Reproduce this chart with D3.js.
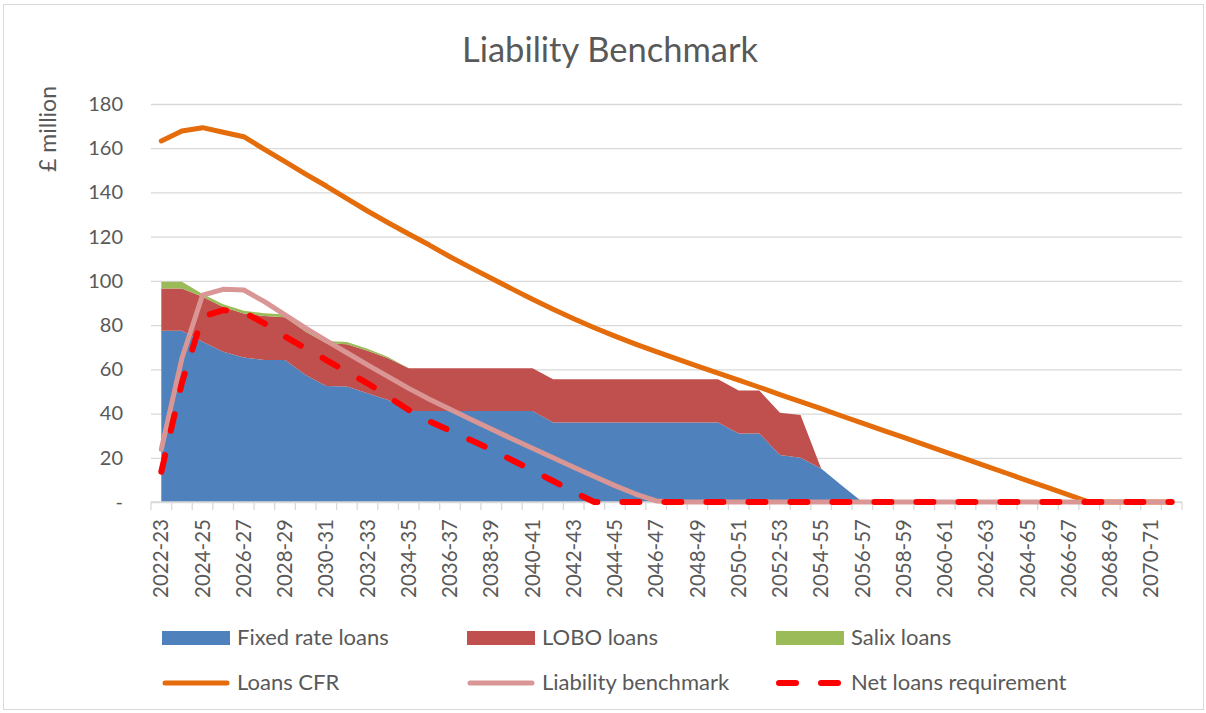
<!DOCTYPE html>
<html lang="en">
<head>
  <meta charset="UTF-8">
  <title>Liability Benchmark</title>
  <script src="https://d3js.org/d3.v7.min.js"></script>
  <style>
    body { margin: 0; background: #fff; font-family: Lato, "Open Sans", sans-serif; }
    text { fill: #595959; }
  </style>
</head>
<body>
  <svg width="1206" height="713"></svg>

  <script>
    // Categories (financial years)
    const years = [
      "2022-23","2023-24","2024-25","2025-26","2026-27","2027-28","2028-29","2029-30","2030-31","2031-32",
      "2032-33","2033-34","2034-35","2035-36","2036-37","2037-38","2038-39","2039-40","2040-41","2041-42",
      "2042-43","2043-44","2044-45","2045-46","2046-47","2047-48","2048-49","2049-50","2050-51","2051-52",
      "2052-53","2053-54","2054-55","2055-56","2056-57","2057-58","2058-59","2059-60","2060-61","2061-62",
      "2062-63","2063-64","2064-65","2065-66","2066-67","2067-68","2068-69","2069-70","2070-71","2071-72"
    ];

    // Stacked areas (£ million)
    const fixedRate = [
      77.5, 77.5, 72.5, 68.0, 65.4, 64.2, 64.2, 57.4, 52.5, 52.2,
      49.2, 46.1, 41.2, 41.2, 41.2, 41.2, 41.2, 41.2, 41.2, 36.0,
      36.0, 36.0, 36.0, 36.0, 36.0, 36.0, 36.0, 36.0, 31.0, 31.0,
      21.3, 20.0, 15.2, 7.5, 0, 0, 0, 0, 0, 0,
      0, 0, 0, 0, 0, 0, 0, 0, 0, 0
    ];
    const lobo = [
      19.1, 19.1, 20.3, 20.2, 19.9, 19.9, 19.3, 19.6, 19.3, 19.2,
      19.2, 18.9, 19.3, 19.3, 19.3, 19.3, 19.3, 19.3, 19.3, 19.5,
      19.5, 19.5, 19.5, 19.5, 19.5, 19.5, 19.5, 19.5, 19.4, 19.4,
      19.1, 19.3, 0, 0, 0, 0, 0, 0, 0, 0,
      0, 0, 0, 0, 0, 0, 0, 0, 0, 0
    ];
    const salix = [
      3.0, 3.0, 1.3, 1.2, 1.2, 1.3, 1.3, 1.0, 1.0, 1.0,
      0.9, 0.6, 0, 0, 0, 0, 0, 0, 0, 0,
      0, 0, 0, 0, 0, 0, 0, 0, 0, 0,
      0, 0, 0, 0, 0, 0, 0, 0, 0, 0,
      0, 0, 0, 0, 0, 0, 0, 0, 0, 0
    ];

    // Lines (£ million)
    const loansCFR = [
      163.3, 167.8, 169.3, 167.2, 165.2, 159.5, 153.9, 148.3, 142.9, 137.2,
      131.6, 126.3, 121.2, 116.2, 110.9, 106.0, 101.2, 96.4, 91.7, 87.2,
      82.9, 78.8, 75.0, 71.4, 68.0, 64.7, 61.5, 58.3, 55.1, 51.9,
      48.6, 45.4, 42.2, 38.9, 35.7, 32.4, 29.2, 26.0, 22.7, 19.5,
      16.2, 13.0, 9.7, 6.5, 3.2, 0, 0, 0, 0, 0
    ];
    const liabilityBenchmark = [
      23.8, 65.0, 93.6, 96.2, 95.9, 90.6, 84.6, 78.6, 73.0, 67.5,
      62.0, 56.7, 51.4, 46.5, 41.9, 37.4, 33.0, 28.6, 24.3, 20.0,
      15.7, 11.5, 7.4, 3.6, 0.5, 0, 0, 0, 0, 0,
      0, 0, 0, 0, 0, 0, 0, 0, 0, 0,
      0, 0, 0, 0, 0, 0, 0, 0, 0, 0
    ];
    const netLoans = [
      13.7, 54.0, 83.8, 86.8, 85.8, 80.8, 74.8, 69.5, 64.2, 58.9,
      53.7, 47.6, 41.6, 36.5, 32.3, 28.0, 23.7, 19.0, 14.3, 9.5,
      4.5, 0, 0, 0, 0, 0, 0, 0, 0, 0,
      0, 0, 0, 0, 0, 0, 0, 0, 0, 0,
      0, 0, 0, 0, 0, 0, 0, 0, 0, 0
    ];

    const yTicks = [0, 20, 40, 60, 80, 100, 120, 140, 160, 180];

    const areaSeries = [
      { key: "fixed", name: "Fixed rate loans", color: "#4F81BD" },
      { key: "lobo",  name: "LOBO loans",       color: "#C0504D" },
      { key: "salix", name: "Salix loans",      color: "#9BBB59" }
    ];
    const lineSeries = [
      { name: "Loans CFR",             values: loansCFR,           color: "#E46C0A", width: 5, dash: null },
      { name: "Liability benchmark",   values: liabilityBenchmark, color: "#D99694", width: 5, dash: null },
      { name: "Net loans requirement", values: netLoans,           color: "#FF0000", width: 6, dash: "17 25" }
    ];

    const svg = d3.select("svg");
    const plot = { left: 151, right: 1182, top: 104, bottom: 502 };

    const x = d3.scaleBand().domain(years).range([plot.left, plot.right]);
    const cx = d => x(d) + x.bandwidth() / 2;
    const y = d3.scaleLinear().domain([0, 180]).range([plot.bottom, plot.top]);

    // chart border
    svg.append("rect")
       .attr("x", 3.5).attr("y", 4.5).attr("width", 1200).attr("height", 705)
       .attr("fill", "none").attr("stroke", "#d9d9d9");

    // title
    svg.append("text")
       .attr("x", 610).attr("y", 62)
       .attr("text-anchor", "middle")
       .style("font-size", "34.5px")
       .text("Liability Benchmark");

    // gridlines + y labels
    const yAxis = d3.axisLeft(y)
      .tickValues(yTicks)
      .tickSize(-(plot.right - plot.left))
      .tickPadding(28)
      .tickFormat(d => d === 0 ? "-" : d);
    const gy = svg.append("g")
      .attr("transform", `translate(${plot.left},0)`)
      .call(yAxis);
    gy.select(".domain").remove();
    gy.selectAll("line").attr("stroke", "#d9d9d9").attr("stroke-width", 1.3);
    gy.selectAll("text")
      .style("font-size", "20px").style("font-family", "Lato, sans-serif")
      .attr("fill", "#595959");

    svg.append("text")
       .attr("transform", "translate(56,129) rotate(-90)")
       .attr("text-anchor", "middle")
       .style("font-size", "23px")
       .text("£ million");

    // stacked areas
    const table = years.map((yr, i) => ({ year: yr, fixed: fixedRate[i], lobo: lobo[i], salix: salix[i] }));
    const stacked = d3.stack().keys(areaSeries.map(s => s.key))(table);
    const area = d3.area()
      .x(d => cx(d.data.year))
      .y0(d => y(d[0]))
      .y1(d => y(d[1]));
    svg.append("g")
      .selectAll("path")
      .data(stacked)
      .join("path")
      .attr("d", area)
      .attr("fill", (d, i) => areaSeries[i].color);

    // x axis
    const gx = svg.append("g").attr("transform", `translate(0,${plot.bottom})`);
    gx.append("line")
      .attr("x1", plot.left).attr("x2", plot.right)
      .attr("stroke", "#d9d9d9").attr("stroke-width", 1.3);
    const edges = years.map(d => x(d)).concat([plot.right]);
    gx.selectAll(".tick-mark")
      .data(edges)
      .join("line")
      .attr("class", "tick-mark")
      .attr("x1", d => d).attr("x2", d => d)
      .attr("y1", 0).attr("y2", 8)
      .attr("stroke", "#d9d9d9").attr("stroke-width", 1.3);
    gx.selectAll(".xlab")
      .data(years.filter((d, i) => i % 2 === 0))
      .join("text")
      .attr("class", "xlab")
      .attr("transform", d => `translate(${cx(d)},17) rotate(-90)`)
      .attr("text-anchor", "end")
      .attr("dy", "0.35em")
      .style("font-size", "20.5px")
      .text(d => d);

    // lines
    const line = d3.line()
      .x((d, i) => cx(years[i]))
      .y(d => y(d));
    svg.append("g")
      .selectAll("path")
      .data(lineSeries)
      .join("path")
      .attr("d", d => line(d.values))
      .attr("fill", "none")
      .attr("stroke", d => d.color)
      .attr("stroke-width", d => d.width)
      .attr("stroke-linejoin", "round")
      .attr("stroke-linecap", "round")
      .attr("stroke-dasharray", d => d.dash);

    // legend
    const legendCols = [163, 468, 777];
    const legend = svg.append("g");
    areaSeries.forEach((s, i) => {
      legend.append("rect")
        .attr("x", legendCols[i] - 1).attr("y", 631)
        .attr("width", 68).attr("height", 14)
        .attr("fill", s.color);
      legend.append("text")
        .attr("x", legendCols[i] + 74).attr("y", 645)
        .style("font-size", "22px")
        .text(s.name);
    });
    lineSeries.forEach((s, i) => {
      legend.append("line")
        .attr("x1", legendCols[i] + 2).attr("x2", legendCols[i] + 64)
        .attr("y1", 683).attr("y2", 683)
        .attr("stroke", s.color)
        .attr("stroke-width", s.width)
        .attr("stroke-linecap", "round")
        .attr("stroke-dasharray", s.dash);
      legend.append("text")
        .attr("x", legendCols[i] + 74).attr("y", 690)
        .style("font-size", "22px")
        .text(s.name);
    });
  </script>
</body>
</html>
